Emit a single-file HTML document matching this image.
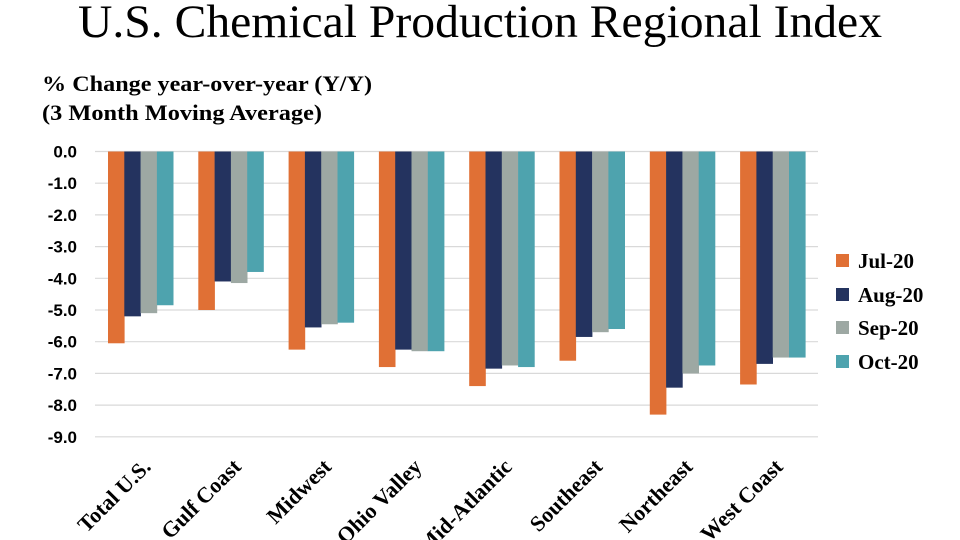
<!DOCTYPE html>
<html><head><meta charset="utf-8"><style>body{margin:0;background:#fff}svg{display:block}</style></head><body>
<svg width="960" height="540" xmlns="http://www.w3.org/2000/svg">
<text x="480" y="37" text-anchor="middle" font-family="Liberation Serif, serif" font-size="47" textLength="804" lengthAdjust="spacingAndGlyphs">U.S. Chemical Production Regional Index</text>
<text x="42" y="91" font-family="Liberation Serif, serif" font-size="22" font-weight="bold" textLength="330" lengthAdjust="spacingAndGlyphs">% Change year-over-year (Y/Y)</text>
<text x="42" y="120" font-family="Liberation Serif, serif" font-size="22" font-weight="bold" textLength="280" lengthAdjust="spacingAndGlyphs">(3 Month Moving Average)</text>
<g id="grid" stroke="#d9d9d9" stroke-width="1.2"></g>
<g id="yl" font-family="Liberation Sans, sans-serif" font-size="17" font-weight="bold" text-anchor="end"></g>
<g id="bars"></g>
<g id="xl" font-family="Liberation Serif, serif" font-size="22" font-weight="bold" text-anchor="end"></g>
<g font-family="Liberation Serif, serif" font-size="21" font-weight="bold">
<rect x="836" y="254" width="13" height="13" fill="#E07035"/><text x="858" y="268">Jul-20</text>
<rect x="836" y="288" width="13" height="13" fill="#24335F"/><text x="858" y="302">Aug-20</text>
<rect x="836" y="321" width="13" height="13" fill="#9DA8A3"/><text x="858" y="335">Sep-20</text>
<rect x="836" y="355" width="13" height="13" fill="#4EA3AE"/><text x="858" y="369">Oct-20</text>
</g>
<script>
var Y0=151.5,U=31.7,ns="http://www.w3.org/2000/svg";
function el(p,t,a,txt){var e=document.createElementNS(ns,t);for(var k in a)e.setAttribute(k,a[k]);if(txt)e.textContent=txt;document.getElementById(p).appendChild(e);}
for(var i=0;i<=9;i++){var y=Y0+i*U;el('grid','line',{x1:95,x2:818,y1:y,y2:y});el('yl','text',{x:77,y:y+6},(i?'-':'')+i+'.0');}
var d=[[-6.05,-5.2,-5.1,-4.85],[-5.0,-4.1,-4.15,-3.8],[-6.25,-5.55,-5.45,-5.4],[-6.8,-6.25,-6.3,-6.3],[-7.4,-6.85,-6.75,-6.8],[-6.6,-5.85,-5.7,-5.6],[-8.3,-7.45,-7.0,-6.75],[-7.35,-6.7,-6.5,-6.5]];
var c=['#E07035','#24335F','#9DA8A3','#4EA3AE'];
var n=['Total U.S.','Gulf Coast','Midwest','Ohio Valley','Mid-Atlantic','Southeast','Northeast','West Coast'];
d.forEach(function(g,j){var x0=108+90.3*j;g.forEach(function(v,k){el('bars','rect',{x:x0+k*16.3,y:Y0,width:16.6,height:-v*U,fill:c[k]});});
var cx=x0+44,cy=468;el('xl','text',{x:cx,y:cy,transform:'rotate(-45 '+cx+' '+cy+')'},n[j]);});
</script>
</svg>
</body></html>
